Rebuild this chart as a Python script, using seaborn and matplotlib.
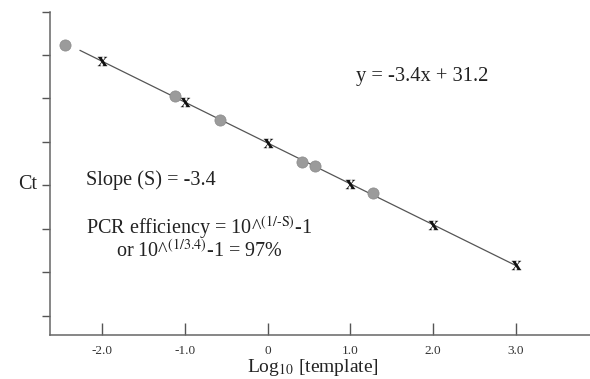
import matplotlib
matplotlib.use("Agg")
import matplotlib.pyplot as plt
import seaborn as sns
import numpy as np
import pandas as pd

# standard curve: x marks (dilution series) and grey circles (samples)
std_log = [-2.0, -1.0, 0.0, 1.0, 2.0, 3.0]
std_ct = [38.0, 34.6, 31.2, 27.8, 24.4, 21.0]
sample_log = [-2.45, -1.12, -0.58, 0.42, 0.57, 1.27]
sample_ct = [39.4, 35.1, 33.1, 29.6, 29.3, 27.0]
fit_x = [-2.27, 3.0]
slope, intercept = -3.4, 31.2
x_ticks = [-2.0, -1.0, 0.0, 1.0, 2.0, 3.0]
x_ticklabels = ["-2.0", "-1.0", "0", "1.0", "2.0", "3.0"]
y_ticks = [16.8, 20.45, 24.05, 27.7, 31.3, 34.95, 38.55, 42.1]

sns.set_style("ticks")
plt.rcParams["font.family"] = ["Liberation Serif", "DejaVu Serif"]
plt.rcParams["mathtext.fontset"] = "stix"

fig = plt.figure(figsize=(5.9, 3.79), dpi=100)
ax = fig.add_axes([0.085, 0.116, 0.915, 0.852])

fit = pd.DataFrame({"x": fit_x})
fit["y"] = slope * fit["x"] + intercept
sns.lineplot(data=fit, x="x", y="y", ax=ax, color="#555555", linewidth=0.9)

sns.scatterplot(x=sample_log, y=sample_ct, ax=ax, s=65, color="#9b9b9b",
                edgecolor="#8a8a8a", linewidth=0.5, zorder=3)
sns.scatterplot(x=std_log, y=std_ct, ax=ax, marker=r"$\mathbf{x}$", s=48,
                color="#111111", linewidth=0, zorder=4)

ax.set_xlim(-2.63, 3.9)
ax.set_ylim(15.2, 42.1)
ax.set_xticks(x_ticks)
ax.set_xticklabels(x_ticklabels, fontsize=9.5, color="#333333")
ax.set_yticks(y_ticks)
ax.set_yticklabels([])
ax.tick_params(axis="x", direction="in", length=9, width=1, color="#555555", pad=7)
ax.tick_params(axis="y", direction="out", length=6, width=1, color="#555555")
sns.despine(ax=ax)
for sp in ("left", "bottom"):
    ax.spines[sp].set_color("#666666")
    ax.spines[sp].set_linewidth(1.1)

ax.set_xlabel("")
ax.set_ylabel("")
tc = "#222222"
fig.text(0.53, 0.018, r"Log$_{\mathrm{10}}$ [template]", fontsize=14, color=tc,
         ha="center", va="baseline")
fig.text(0.047, 0.512, "Ct", fontsize=14.5, color=tc, ha="center", va="center")

ax.text(0.69, 0.80, "y = -3.4x + 31.2", transform=ax.transAxes, fontsize=14.8,
        color=tc, ha="center", va="center")
ax.text(0.067, 0.48, "Slope (S) = -3.4", transform=ax.transAxes, fontsize=14.6,
        color=tc, ha="left", va="center")
ax.text(0.067, 0.334, r"PCR efficiency = 10^$^{\mathrm{(1/\text{-}S)}}$-1",
        transform=ax.transAxes, fontsize=14.5, color=tc, ha="left", va="center")
ax.text(0.122, 0.263, r"or 10^$^{\mathrm{(1/3.4)}}$-1 = 97%",
        transform=ax.transAxes, fontsize=14.5, color=tc, ha="left", va="center")

fig.savefig("out.png", dpi=100)
